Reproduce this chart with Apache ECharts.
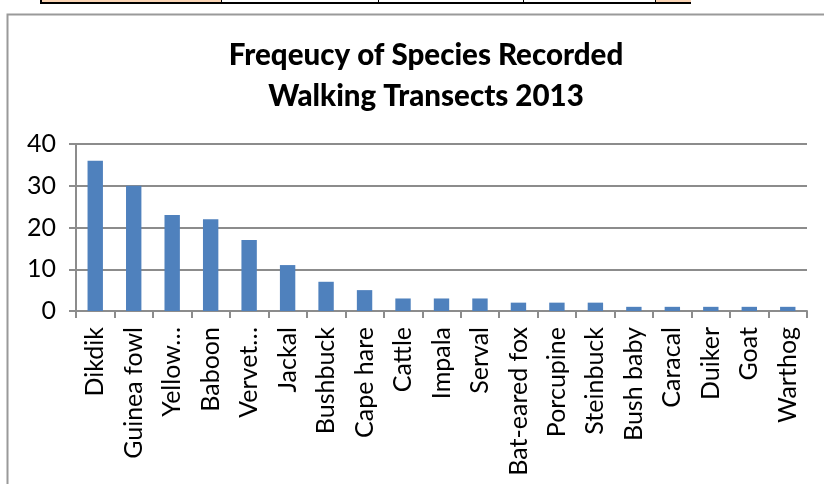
<!DOCTYPE html>
<html>
<head>
<meta charset="utf-8">
<script src="https://cdn.jsdelivr.net/npm/echarts@6/dist/echarts.min.js"></script>
<style>
  html, body { margin: 0; padding: 0; background: #fff; }
  #chart { width: 824px; height: 484px; }
</style>
</head>
<body>
<div id="chart"></div>
<script>
// Species sighted on the 2013 walking transects, most frequent first
const species = [
  'Dikdik', 'Guinea fowl', 'Yellow…', 'Baboon', 'Vervet…', 'Jackal',
  'Bushbuck', 'Cape hare', 'Cattle', 'Impala', 'Serval', 'Bat-eared fox',
  'Porcupine', 'Steinbuck', 'Bush baby', 'Caracal', 'Duiker', 'Goat', 'Warthog'
];
const counts = [36, 30, 23, 22, 17, 11, 7, 5, 3, 3, 3, 2, 2, 2, 1, 1, 1, 1, 1];
const yTicks = { min: 0, max: 40, step: 10 };

const chart = echarts.init(document.getElementById('chart'));
const gray = '#8c8c8c';
const font = 'Lato, "Open Sans", sans-serif';

chart.setOption({
  animation: false,
  title: {
    text: 'Freqeucy of Species Recorded\nWalking Transects 2013',
    left: 421,
    top: 30,
    textAlign: 'center',
    textStyle: {
      fontFamily: font,
      fontWeight: 900,
      fontSize: 29.5,
      lineHeight: 41,
      color: '#000'
    }
  },
  grid: { left: 76, right: 17, top: 144, bottom: 173, containLabel: false },
  xAxis: {
    type: 'category',
    data: species,
    boundaryGap: true,
    axisLine: { show: true, lineStyle: { color: gray, width: 2 } },
    axisTick: { show: true, length: 7, alignWithLabel: false, lineStyle: { color: gray, width: 2 } },
    axisLabel: {
      rotate: 90,
      interval: 0,
      margin: 16,
      fontFamily: font,
      fontSize: 25,
      color: '#000'
    }
  },
  yAxis: {
    type: 'value',
    min: yTicks.min,
    max: yTicks.max,
    interval: yTicks.step,
    axisLine: { show: true, lineStyle: { color: gray, width: 2 } },
    axisTick: { show: true, length: 7, lineStyle: { color: gray, width: 2 } },
    splitLine: { show: true, lineStyle: { color: gray, width: 2 } },
    axisLabel: {
      margin: 20,
      fontFamily: font,
      fontSize: 25,
      color: '#000'
    }
  },
  series: [{
    type: 'bar',
    data: counts,
    barWidth: '40%',
    itemStyle: { color: '#4F81BD' }
  }],
  graphic: [
    // chart frame
    { type: 'rect', left: 5, top: 12, z: -1,
      shape: { width: 840, height: 500 },
      style: { fill: 'none', stroke: '#9a9a9a', lineWidth: 2 } },
    // spreadsheet row above the chart
    { type: 'rect', left: 41, top: 0, shape: { width: 181, height: 2 }, style: { fill: '#FBD5B5' } },
    { type: 'rect', left: 655, top: 0, shape: { width: 36, height: 2 }, style: { fill: '#FBD5B5' } },
    { type: 'rect', left: 40, top: 2, shape: { width: 651, height: 2 }, style: { fill: '#000' } },
    { type: 'rect', left: 40, top: 0, shape: { width: 2, height: 4 }, style: { fill: '#000' } },
    { type: 'rect', left: 221, top: 0, shape: { width: 1, height: 3 }, style: { fill: '#000' } },
    { type: 'rect', left: 378, top: 0, shape: { width: 1, height: 3 }, style: { fill: '#000' } },
    { type: 'rect', left: 523, top: 0, shape: { width: 1, height: 3 }, style: { fill: '#000' } },
    { type: 'rect', left: 655, top: 0, shape: { width: 1, height: 3 }, style: { fill: '#000' } }
  ]
});
</script>
</body>
</html>
